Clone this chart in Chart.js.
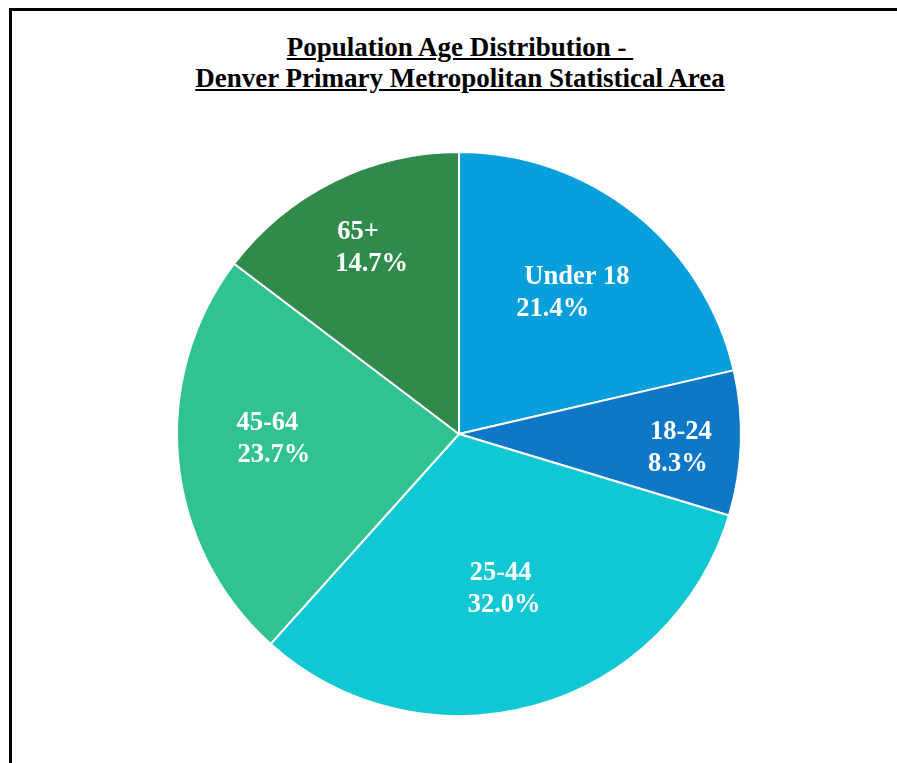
<!DOCTYPE html>
<html>
<head>
<meta charset="utf-8">
<script src="https://cdn.jsdelivr.net/npm/chart.js@4"></script>
<style>
    html, body { margin: 0; padding: 0; background: #fff; overflow: hidden; }
    body { width: 897px; height: 763px; position: relative; }
    #frame {
        position: absolute; left: 9px; top: 8px; width: 1000px; height: 1000px;
        border: 3px solid #000; box-sizing: border-box;
    }
    #title {
        position: absolute; left: 0; width: 920px; top: 32px;
        text-align: center; font-family: "Liberation Serif", serif; font-weight: bold;
        font-size: 27px; line-height: 31px; text-decoration: underline; color: #000;
    }
    #chart { position: absolute; left: 0; top: 0; }
</style>
</head>
<body>
<div id="frame"></div>
<div id="title">Population Age Distribution -&nbsp;<br>Denver Primary Metropolitan Statistical Area</div>
<canvas id="chart" width="897" height="763"></canvas>
<script>
// Age groups and their share of population (%)
const ageGroups = ['Under 18', '18-24', '25-44', '45-64', '65+'];
const shares = [21.4, 8.3, 32.0, 23.7, 14.7];
const sliceColors = ['#069FDB', '#0E77C7', '#0FC8D4', '#31C294', '#2F8A4B'];

// where each label block sits, as a fraction of the radius from the centre
const labelSpots = [[0.39, -0.50], [0.78, 0.05], [0.16, 0.55], [-0.66, 0.02], [-0.31, -0.66]];

const sliceLabels = {
    id: 'sliceLabels',
    afterDatasetsDraw(chart) {
        const ctx = chart.ctx;
        const arcs = chart.getDatasetMeta(0).data;
        ctx.save();
        ctx.font = 'bold 26.5px "Liberation Serif"';
        ctx.fillStyle = '#fff';
        ctx.textBaseline = 'middle';
        ctx.textAlign = 'left';
        arcs.forEach((arc, i) => {
            const lines = [ageGroups[i], shares[i].toFixed(1) + '%'];
            const w = Math.max(...lines.map(t => ctx.measureText(t).width));
            const cx = arc.x + labelSpots[i][0] * arc.outerRadius;
            const cy = arc.y + labelSpots[i][1] * arc.outerRadius;
            const left = cx - w / 2;
            ctx.fillText(lines[0], left + (i === 0 ? 8 : i === 3 ? 0 : 2), cy - 16);
            ctx.fillText(lines[1], left + (i === 3 ? 1 : 0), cy + 16);
        });
        ctx.restore();
    }
};

new Chart(document.getElementById('chart'), {
    type: 'pie',
    data: {
        labels: ageGroups,
        datasets: [{
            data: shares,
            backgroundColor: sliceColors,
            borderColor: '#fff',
            borderWidth: 2
        }]
    },
    options: {
        responsive: false,
        animation: false,
        layout: { padding: { left: 176, right: 155, top: 151, bottom: 46 } },
        plugins: {
            legend: { display: false },
            tooltip: { enabled: false }
        }
    },
    plugins: [sliceLabels]
});
</script>
</body>
</html>
